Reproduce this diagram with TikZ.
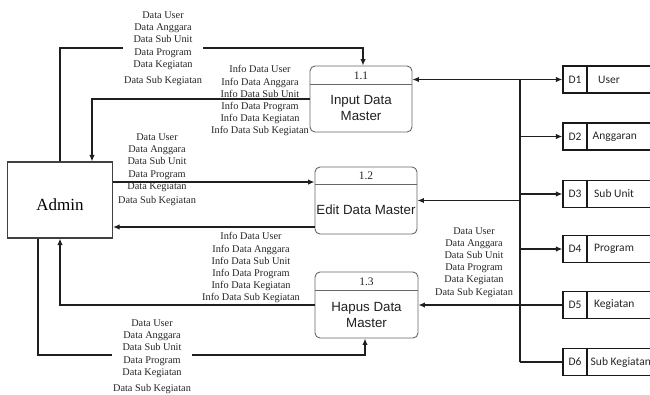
\documentclass[tikz,border=0pt]{standalone}
\usepackage{fontspec}
\setmainfont{Liberation Serif}
\newfontfamily\arialf{Liberation Sans}
\newfontfamily\calibrif{Carlito}
\usetikzlibrary{arrows.meta}
\begin{document}
\begin{tikzpicture}[x=1pt,y=-1pt,
  flow/.style={line width=1.4pt, draw=black!88},
  arr/.style={flow, -{Latex[length=6.5pt,width=5.5pt]}},
  arrboth/.style={flow, {Latex[length=6.5pt,width=5.5pt]}-{Latex[length=6.5pt,width=5.5pt]}},
  adminbox/.style={draw=black!75, line width=1.1pt, minimum width=105pt, minimum height=76pt, inner sep=0pt,
    font=\fontsize{17}{19}\selectfont, text height=20pt, text depth=0pt},
  proc/.style={draw=black!60, line width=0.9pt, rounded corners=5pt, minimum height=66pt, inner sep=0pt},
  procline/.style={draw=black!60, line width=0.9pt},
  num/.style={font=\fontsize{11.5}{13}\selectfont, inner sep=0pt, text=black!85},
  ptitle/.style={font=\arialf\fontsize{13.3}{16}\selectfont, align=center, inner sep=0pt, text=black!88},
  store/.style={draw=black!90, line width=1.2pt, minimum width=97pt, minimum height=27pt, inner sep=0pt},
  sline/.style={draw=black!90, line width=1.2pt},
  sid/.style={font=\calibrif\fontsize{11.5}{13}\selectfont, inner sep=0pt, text=black!85},
  sname/.style={font=\calibrif\fontsize{11.5}{13}\selectfont, inner sep=0pt, anchor=west, text=black!85},
  lbl/.style={font=\fontsize{10.3}{12.2}\selectfont, align=center, inner sep=0.8pt, text=black!85}
]
\useasboundingbox (0,0) rectangle (650,394);
\clip (0,0) rectangle (650,394);

% entity
\node[adminbox] (admin) at (60,200) {Admin};

% processes
\node[proc, minimum width=102pt] (p1) at (361,99) {};
\node[proc, minimum width=102pt, minimum height=67pt] (p2) at (366,200.5) {};
\node[proc, minimum width=103pt] (p3) at (366.5,305) {};
\draw[procline] ([yshift=15pt]p1.west) -- ([yshift=15pt]p1.east);
\draw[procline] ([yshift=16.5pt]p2.west) -- ([yshift=16.5pt]p2.east);
\draw[procline] ([yshift=15pt]p3.west) -- ([yshift=15pt]p3.east);
\node[num] (n1) at (361,75.5) {1.1};
\node[num] (n2) at (366,176) {1.2};
\node[num] (n3) at (366.5,281.5) {1.3};
\node[ptitle] (t1) at (361,108) {Input Data\\Master};
\node[ptitle] (t2) at (366,209.5) {Edit Data Master};
\node[ptitle] (t3) at (366.5,314.5) {Hapus Data\\Master};

% data stores
\node[store] (d1) at (611.5,79.5) {};
\node[store] (d2) at (611.5,136.5) {};
\node[store] (d3) at (611.5,194) {};
\node[store] (d4) at (611.5,249) {};
\node[store] (d5) at (611.5,305) {};
\node[store] (d6) at (611.5,362) {};
\coordinate (sx) at (587,0);
\foreach \d in {d1,d2,d3,d4,d5,d6}{
  \draw[sline] (sx |- \d.north) -- (sx |- \d.south);
}
\node[sid] (i1) at (575,79.5) {D1};
\node[sid] (i2) at (575,136.5) {D2};
\node[sid] (i3) at (575,194) {D3};
\node[sid] (i4) at (575,249) {D4};
\node[sid] (i5) at (575,305) {D5};
\node[sid] (i6) at (575,362) {D6};
\node[sname] (m1) at (598,79.5) {User};
\node[sname] (m2) at (592.5,136.5) {Anggaran};
\node[sname] (m3) at (594,194) {Sub Unit};
\node[sname] (m4) at (594,249) {Program};
\node[sname] (m5) at (594,305) {Kegiatan};
\node[sname] (m6) at (590.5,362) {Sub Kegiatan};

% right bus
\coordinate (bx) at (520,0);
\draw[flow] (bx |- d1) -- (bx |- d6);
\draw[arrboth] (p1.east |- d1) -- (d1.west);
\draw[arr] (bx |- d2) -- (d2.west);
\draw[arr] (bx |- d3) -- (d3.west);
\draw[arr] (bx |- d4) -- (d4.west);
\draw[flow] (bx |- d6) -- (d6.west);
\draw[arr] (d5.west) -- (p3.east);
\draw[arr] (bx |- p2.east) -- (p2.east);

% left side connectors
\coordinate (ta) at (60,48);
\coordinate (tb) at (363,48);
\draw[arr] (admin.north) -- (ta) -- (tb) -- (tb |- p1.north);
\coordinate (xa) at (92,0);
\draw[arr] (p1.west) -| (xa |- admin.north);
\coordinate (ya) at (0,182);
\coordinate (yb) at (0,227);
\draw[arr] (admin.east |- ya) -- (p2.west |- ya);
\draw[arr] (p2.west |- yb) -- (admin.east |- yb);
\draw[arr] (p3.west) -| (admin.south);
\coordinate (ba) at (38,355);
\coordinate (bb) at (365,355);
\draw[arr] (admin.south -| ba) -- (ba) -- (bb) -- (bb |- p3.south);

% flow labels
\node[lbl, fill=white] (la) at (163,48.8) {Data User\\Data Anggara\\Data Sub Unit\\Data Program\\Data Kegiatan\\[4pt]Data Sub Kegiatan};
\node[lbl] (lb) at (260,100.8) {Info Data User\\Info Data Anggara\\Info Data Sub Unit\\Info Data Program\\Info Data Kegiatan\\Info Data Sub Kegiatan};
\node[lbl] (lc) at (157,169.8) {Data User\\Data Anggara\\Data Sub Unit\\Data Program\\Data Kegiatan\\[2pt]Data Sub Kegiatan};
\node[lbl] (ld) at (251,267.8) {Info Data User\\Info Data Anggara\\Info Data Sub Unit\\Info Data Program\\Info Data Kegiatan\\Info Data Sub Kegiatan};
\node[lbl] (le) at (474,262.3) {Data User\\Data Anggara\\Data Sub Unit\\Data Program\\Data Kegiatan\\Data Sub Kegiatan};
\node[lbl, fill=white] (lf) at (152,356.8) {Data User\\Data Anggara\\Data Sub Unit\\Data Program\\Data Kegiatan\\[4pt]Data Sub Kegiatan};
\end{tikzpicture}
\end{document}
